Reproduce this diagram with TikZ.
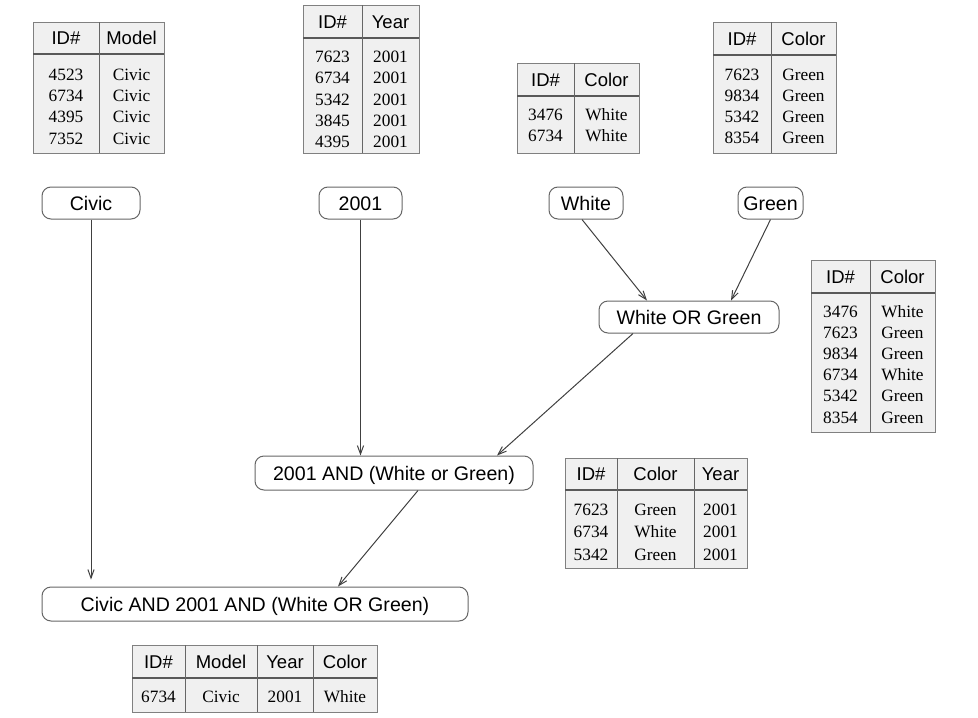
\documentclass[tikz,border=0pt]{standalone}
\usepackage{fontspec}
\setmainfont{Liberation Serif}
\setsansfont{Liberation Sans}
\usetikzlibrary{arrows.meta}
\tikzset{
	every path/.style={line width=1pt},
	op/.style={
		draw=black!60,
		rounded corners=9pt,
		minimum height=32pt,
		inner sep=0pt,
		text height=14pt,
		text depth=0pt,
		font=\sffamily\fontsize{19.6}{22}\selectfont,
	},
	link/.style={
		draw=black!75,
		-{Straight Barb[angle=40:9pt]}
	},
	tbl/.style={
		draw=black!50,
		fill=black!6,
	},
	tblhead/.style={draw=black!65, line width=1.6pt},
	tblcol/.style={draw=black!60},
	hd/.style={
		inner sep=0pt,
		text height=13.2pt,
		text depth=0pt,
		font=\sffamily\fontsize{18.5}{21}\selectfont,
	},
	cell/.style={
		inner sep=0pt,
		text height=11.6pt,
		text depth=0pt,
		font=\fontsize{17.3}{20}\selectfont,
	},
}

\begin{document}
\begin{tikzpicture}[x=1pt, y=-1pt]
	\useasboundingbox (0,0) rectangle (978,718);

	% tables
	\draw[tbl] (33,22) rectangle (164,153);
	\draw[tblhead] (33,54) -- (164,54);
	\draw[tblcol] (99,22) -- (99,153);
	\node[hd] (modelid) at (66,38) {ID\#};
	\node[hd] (modelname) at (131.5,38) {Model};
	\foreach \id/\y [count=\i] in {4523/75,6734/96,4395/117,7352/139} {
		\node[cell] (modelid\i) at (66,\y) {\id};
		\node[cell] (modelval\i) at (131.5,\y) {Civic};
	}

	\draw[tbl] (303,5) rectangle (419,153);
	\draw[tblhead] (303,38) -- (419,38);
	\draw[tblcol] (362,5) -- (362,153);
	\node[hd] (yearid) at (332.5,21.5) {ID\#};
	\node[hd] (yearname) at (390.5,21.5) {Year};
	\foreach \id/\y [count=\i] in {7623/57,6734/78,5342/100,3845/121,4395/142} {
		\node[cell] (yearid\i) at (332.5,\y) {\id};
		\node[cell] (yearval\i) at (390.5,\y) {2001};
	}

	\draw[tbl] (517,63) rectangle (639,153);
	\draw[tblhead] (517,96) -- (639,96);
	\draw[tblcol] (574,63) -- (574,153);
	\node[hd] (whiteid) at (545.5,80) {ID\#};
	\node[hd] (whitename) at (606.5,80) {Color};
	\foreach \id/\y [count=\i] in {3476/115,6734/136} {
		\node[cell] (whiteid\i) at (545.5,\y) {\id};
		\node[cell] (whiteval\i) at (606.5,\y) {White};
	}

	\draw[tbl] (713,22) rectangle (836,153);
	\draw[tblhead] (713,55) -- (836,55);
	\draw[tblcol] (771,22) -- (771,153);
	\node[hd] (greenid) at (742,39) {ID\#};
	\node[hd] (greenname) at (803.5,39) {Color};
	\foreach \id/\y [count=\i] in {7623/75,9834/96,5342/117,8354/138} {
		\node[cell] (greenid\i) at (742,\y) {\id};
		\node[cell] (greenval\i) at (803.5,\y) {Green};
	}

	\draw[tbl] (811,260) rectangle (935,432);
	\draw[tblhead] (811,293) -- (935,293);
	\draw[tblcol] (870,260) -- (870,432);
	\node[hd] (orid) at (840.5,277) {ID\#};
	\node[hd] (orname) at (902.5,277) {Color};
	\foreach \id/\c/\y [count=\i] in {3476/White/312,7623/Green/333,9834/Green/354,6734/White/375,5342/Green/396,8354/Green/418} {
		\node[cell] (orid\i) at (840.5,\y) {\id};
		\node[cell] (orval\i) at (902.5,\y) {\c};
	}

	\draw[tbl] (565,458) rectangle (747,568);
	\draw[tblhead] (565,490) -- (747,490);
	\draw[tblcol] (617,458) -- (617,568);
	\draw[tblcol] (694,458) -- (694,568);
	\node[hd] (andid) at (591,474) {ID\#};
	\node[hd] (andcolor) at (655.5,474) {Color};
	\node[hd] (andyear) at (720.5,474) {Year};
	\foreach \id/\c/\y [count=\i] in {7623/Green/510,6734/White/532,5342/Green/555} {
		\node[cell] (andid\i) at (591,\y) {\id};
		\node[cell] (andcolor\i) at (655.5,\y) {\c};
		\node[cell] (andyear\i) at (720.5,\y) {2001};
	}

	\draw[tbl] (132,645) rectangle (377,712);
	\draw[tblhead] (132,678) -- (377,678);
	\foreach \x in {185,257,313}
		\draw[tblcol] (\x,645) -- (\x,712);
	\node[hd] (resid) at (158.5,662) {ID\#};
	\node[hd] (resmodel) at (221,662) {Model};
	\node[hd] (resyear) at (285,662) {Year};
	\node[hd] (rescolor) at (345,662) {Color};
	\node[cell] (resid1) at (158.5,697) {6734};
	\node[cell] (resmodel1) at (221,697) {Civic};
	\node[cell] (resyear1) at (285,697) {2001};
	\node[cell] (rescolor1) at (345,697) {White};

	% query tree
	\node[op, minimum width=98pt] (civic) at (91,203) {Civic};
	\node[op, minimum width=83pt] (year) at (360.5,203) {2001};
	\node[op, minimum width=74pt] (white) at (586,203) {White};
	\node[op, minimum width=65pt] (green) at (770.5,203) {Green};
	\node[op, minimum width=180pt] (whiteorgreen) at (689,317) {White OR Green};
	\node[op, minimum width=278pt, minimum height=34pt] (yearand) at (394,473) {2001 AND (White or Green)};
	\node[op, minimum width=426pt, minimum height=34pt] (civicand) at (255,604) {Civic AND 2001 AND (White OR Green)};

	\draw[link] ([xshift=-4pt]white.south) -- ([xshift=-42pt]whiteorgreen.north);
	\draw[link] (green.south) -- ([xshift=42pt]whiteorgreen.north);
	\draw[link] (year) -- (year |- yearand.north);
	\draw[link] ([xshift=-56pt]whiteorgreen.south) -- ([xshift=103pt]yearand.north);
	\draw[link] ([xshift=24pt]yearand.south) -- ([xshift=83pt]civicand.north);
	\draw[link, shorten >=7pt] (civic) -- (civic |- civicand.north);

\end{tikzpicture}
\end{document}
